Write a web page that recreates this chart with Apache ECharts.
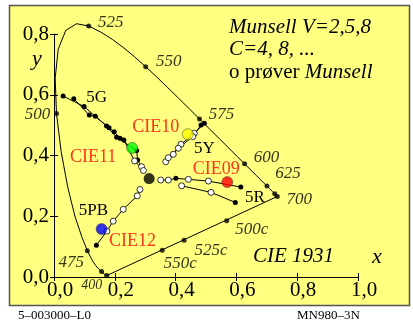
<!DOCTYPE html>
<html>
<head>
<meta charset="utf-8">
<script src="https://cdn.jsdelivr.net/npm/echarts/dist/echarts.min.js"></script>
<style>
html, body { margin: 0; padding: 0; background: #fff; }
#chart { width: 413px; height: 325px; }
</style>
</head>
<body>
<div id="chart"></div>
<script>
// CIE 1931 spectral locus, 380..700 nm in 5 nm steps
const locusNm = [380,385,390,395,400,405,410,415,420,425,430,435,440,445,450,455,460,465,470,475,
  480,485,490,495,500,505,510,515,520,525,530,535,540,545,550,555,560,565,570,575,
  580,585,590,595,600,605,610,615,620,625,630,635,640,645,650,655,660,665,670,675,
  680,685,690,695,700];
const locusX = [0.1741,0.1740,0.1738,0.1736,0.1733,0.1730,0.1726,0.1721,0.1714,0.1703,
  0.1689,0.1669,0.1644,0.1611,0.1566,0.1510,0.1440,0.1355,0.1241,0.1096,
  0.0913,0.0687,0.0454,0.0235,0.0082,0.0039,0.0139,0.0389,0.0743,0.1142,
  0.1547,0.1929,0.2296,0.2658,0.3016,0.3373,0.3731,0.4087,0.4441,0.4788,
  0.5125,0.5448,0.5752,0.6029,0.6270,0.6482,0.6658,0.6801,0.6915,0.7006,
  0.7079,0.7140,0.7190,0.7230,0.7260,0.7283,0.7300,0.7311,0.7320,0.7327,
  0.7334,0.7340,0.7344,0.7346,0.7347];
const locusY = [0.0050,0.0050,0.0049,0.0049,0.0048,0.0048,0.0048,0.0048,0.0051,0.0058,
  0.0069,0.0086,0.0109,0.0138,0.0177,0.0227,0.0297,0.0399,0.0578,0.0868,
  0.1327,0.2007,0.2950,0.4127,0.5384,0.6548,0.7502,0.8120,0.8338,0.8262,
  0.8059,0.7816,0.7543,0.7243,0.6923,0.6589,0.6245,0.5896,0.5547,0.5202,
  0.4866,0.4544,0.4242,0.3965,0.3725,0.3514,0.3340,0.3197,0.3083,0.2993,
  0.2920,0.2859,0.2809,0.2770,0.2740,0.2717,0.2700,0.2689,0.2680,0.2673,
  0.2666,0.2660,0.2656,0.2654,0.2653];

// wavelengths marked with a dot on the locus, and those that get a label
const markedNm = [400, 450, 475, 500, 525, 550, 575, 600, 625, 650, 700];
const labelledNm = [400, 475, 500, 525, 550, 575, 600, 625, 700];

// complementary wavelengths on the purple line
const complementNames = ['500c', '525c', '550c'];
const complementX = [0.568, 0.428, 0.356];
const complementY = [0.185, 0.121, 0.088];

// Munsell hue lines: [x, y, kind]  kind 'b' = Munsell point, 'o' = sample (prøve)
const hue5Ga = [[0.030,0.596,'b'],[0.099,0.561,'b'],[0.173,0.497,'b'],[0.206,0.460,'b'],
  [0.272,0.4165,'b'],[0.275,0.385,'b'],[0.288,0.363,'o']];
const hue5Gb = [[0.065,0.587,'b'],[0.116,0.533,'b'],[0.136,0.529,'b'],[0.181,0.491,'b'],
  [0.198,0.4785,'b'],[0.217,0.457,'b'],[0.230,0.451,'b'],[0.265,0.382,'o'],[0.294,0.3505,'o']];
const hue5Ya = [[0.4946,0.506,'b'],[0.4616,0.473,'o'],[0.4178,0.437,'o'],[0.3924,0.404,'o'],[0.3674,0.3795,'o']];
const hue5Yb = [[0.4837,0.5007,'b'],[0.4563,0.462,'o'],[0.4089,0.4238,'o'],[0.376,0.3927,'o']];
const hue5Ra = [[0.6145,0.296,'b'],[0.508,0.3158,'o'],[0.442,0.3215,'o'],[0.401,0.3248,'b'],
  [0.376,0.319,'o'],[0.351,0.319,'o']];
const hue5Rb = [[0.5964,0.2455,'b'],[0.5166,0.2785,'o'],[0.420,0.3003,'o']];
const hue5PB = [[0.1394,0.1046,'b'],[0.174,0.151,'o'],[0.1947,0.1838,'o'],[0.2277,0.2228,'o'],
  [0.2738,0.2673,'o'],[0.2827,0.2881,'o']];

// CIE test colour samples
const sampleNames = ['CIE09', 'CIE10', 'CIE11', 'CIE12'];
const sampleX = [0.570, 0.440, 0.257, 0.1565];
const sampleY = [0.3125, 0.470, 0.425, 0.158];

// achromatic point
const whitePoint = [0.313, 0.324];

// axis tick labels
const xTickLabels = ['0,0', '0,2', '0,4', '0,6', '0,8', '1,0'];
const yTickLabels = ['0,0', '0,2', '0,4', '0,6', '0,8'];

const SERIF = 'Liberation Serif';
const sampleColors = ['#ff0000', '#ffff00', '#00ff00', '#0000ff'];
const sampleLabelOffset = [[-11, -13], [-32, -7], [-39, 9], [31, 12]];
const nmLabelOffset = { 400: [-15, 10], 475: [-16, 12], 500: [-19, 1], 525: [22, -4], 550: [23, -5],
  575: [22, -4], 600: [22, -6], 625: [21, -13], 700: [22, 3] };
const complementLabelOffset = [[25, 9], [27, 10], [18, 13]];

function dot(p) {
  const open = p[2] === 'o';
  return {
    value: [p[0], p[1]],
    symbolSize: open ? 6 : 5,
    itemStyle: { color: open ? '#fff' : '#000', borderColor: '#000', borderWidth: open ? 0.8 : 0 }
  };
}

// a hue line; the hue name sits beside its outermost (first) point
function hueLine(pts, name, offset) {
  const data = pts.map(dot);
  if (name) {
    data[0].label = {
      show: true, position: 'inside', offset: offset, formatter: name,
      fontFamily: SERIF, fontSize: 17, color: '#000'
    };
  }
  return {
    type: 'line', data: data, symbol: 'circle', showSymbol: true, clip: false,
    lineStyle: { color: '#000', width: 1 }, z: 3, silent: true
  };
}

const locusIndex = nm => locusNm.indexOf(nm);

const series = [
  {
    type: 'line', clip: false, symbol: 'none', silent: true, z: 2,
    lineStyle: { color: '#000', width: 1 },
    data: locusX.map((x, i) => [x, locusY[i]])
  },
  {
    // purple line closing the locus
    type: 'line', clip: false, symbol: 'none', silent: true, z: 2,
    lineStyle: { color: '#000', width: 1 },
    data: [[locusX[locusX.length - 1], locusY[locusY.length - 1]], [locusX[0], locusY[0]]]
  },
  {
    type: 'scatter', clip: false, symbolSize: 5, silent: true, z: 4,
    itemStyle: { color: '#000' },
    data: markedNm.map(nm => {
      const i = locusIndex(nm);
      const item = { value: [locusX[i], locusY[i]] };
      if (labelledNm.includes(nm)) {
        item.label = {
          show: true, position: 'inside', offset: nmLabelOffset[nm], formatter: String(nm),
          fontFamily: SERIF, fontStyle: 'italic', fontSize: nm === 400 ? 14 : 17, color: '#000'
        };
      }
      return item;
    })
  },
  {
    type: 'scatter', clip: false, symbolSize: 5, silent: true, z: 4,
    itemStyle: { color: '#000' },
    data: complementNames.map((n, i) => ({
      value: [complementX[i], complementY[i]],
      label: {
        show: true, position: 'inside', offset: complementLabelOffset[i], formatter: n,
        fontFamily: SERIF, fontStyle: 'italic', fontSize: 17, color: '#000'
      }
    }))
  },
  hueLine(hue5Ga, null),
  hueLine(hue5Gb, '5G', [23, -1]),
  hueLine(hue5Ya, '5Y', [0, 25]),
  hueLine(hue5Yb, null),
  hueLine(hue5Ra, '5R', [14, 10]),
  hueLine(hue5Rb, null),
  hueLine(hue5PB, '5PB', [-3, -35]),
  {
    type: 'scatter', clip: false, symbolSize: 11, silent: true, z: 6,
    itemStyle: { color: '#000' },
    data: [whitePoint]
  },
  {
    type: 'scatter', clip: false, symbolSize: 11, silent: true, z: 6,
    data: sampleNames.map((n, i) => ({
      value: [sampleX[i], sampleY[i]],
      itemStyle: { color: sampleColors[i], borderColor: '#333', borderWidth: 0.6 },
      label: {
        show: true, position: 'inside', offset: sampleLabelOffset[i], formatter: n,
        fontFamily: SERIF, fontSize: 18, color: '#ff0000'
      }
    }))
  }
];

const tickStyle = { show: true, length: 4, lineStyle: { color: '#000', width: 1 } };

const option = {
  animation: false,
  backgroundColor: '#fff',
  grid: { left: 54, right: 55, top: 34, bottom: 48 },
  xAxis: [
    {
      type: 'value', min: 0, max: 1, interval: 0.2, position: 'bottom',
      axisLine: { show: true, lineStyle: { color: '#000', width: 1 } },
      axisTick: tickStyle, splitLine: { show: false },
      axisLabel: {
        fontFamily: SERIF, fontSize: 21, color: '#000', margin: 3, padding: [0, 0, 0, 12],
        formatter: (v) => xTickLabels[Math.round(v / 0.2)]
      }
    },
    {
      // inner half of the crossing ticks
      type: 'value', min: 0, max: 1, interval: 0.2, position: 'top',
      axisLine: { show: false, onZero: true, onZeroAxisIndex: 0 },
      axisTick: tickStyle, axisLabel: { show: false }, splitLine: { show: false }
    }
  ],
  yAxis: [
    {
      type: 'value', min: 0, max: 0.8, interval: 0.2, position: 'left',
      axisLine: { show: true, lineStyle: { color: '#000', width: 1 } },
      axisTick: tickStyle, splitLine: { show: false },
      axisLabel: {
        fontFamily: SERIF, fontSize: 21, color: '#000', margin: 5,
        formatter: (v) => yTickLabels[Math.round(v / 0.2)]
      }
    },
    {
      type: 'value', min: 0, max: 0.8, interval: 0.2, position: 'right',
      axisLine: { show: false, onZero: true, onZeroAxisIndex: 0 },
      axisTick: tickStyle, axisLabel: { show: false }, splitLine: { show: false }
    }
  ],
  graphic: [
    {
      type: 'rect', z: -100, silent: true,
      shape: { x: 9.5, y: 5.5, width: 400, height: 300 },
      style: { fill: '#ffff80', stroke: '#555', lineWidth: 1.5 }
    },
    {
      type: 'text', left: 229, top: 17, silent: true,
      style: { text: 'Munsell V=2,5,8', font: 'italic 21px "Liberation Serif"', fill: '#000' }
    },
    {
      type: 'text', left: 229, top: 39, silent: true,
      style: { text: 'C=4, 8, ...', font: 'italic 21px "Liberation Serif"', fill: '#000' }
    },
    {
      type: 'text', left: 229, top: 62, silent: true,
      style: {
        text: '{n|o prøver }{i|Munsell}',
        rich: {
          n: { fontFamily: SERIF, fontSize: 21, fill: '#000' },
          i: { fontFamily: SERIF, fontSize: 21, fontStyle: 'italic', fill: '#000' }
        }
      }
    },
    {
      type: 'text', left: 253, top: 246, silent: true,
      style: { text: 'CIE 1931', font: 'italic 21px "Liberation Serif"', fill: '#000' }
    },
    {
      type: 'text', left: 372, top: 246, silent: true,
      style: { text: 'x', font: 'italic 22px "Liberation Serif"', fill: '#000' }
    },
    {
      type: 'text', left: 32, top: 48, silent: true,
      style: { text: 'y', font: 'italic 22px "Liberation Serif"', fill: '#000' }
    },
    {
      type: 'text', left: 18, top: 309, silent: true,
      style: { text: '5\u2013003000\u2013L0', font: '13px "Liberation Serif"', fill: '#000' }
    },
    {
      type: 'text', left: 297, top: 309, silent: true,
      style: { text: 'MN980\u20133N', font: '13px "Liberation Serif"', fill: '#000' }
    }
  ],
  series: series
};

const chart = echarts.init(document.getElementById('chart'), null, { renderer: 'canvas' });
chart.setOption(option);
</script>
</body>
</html>
